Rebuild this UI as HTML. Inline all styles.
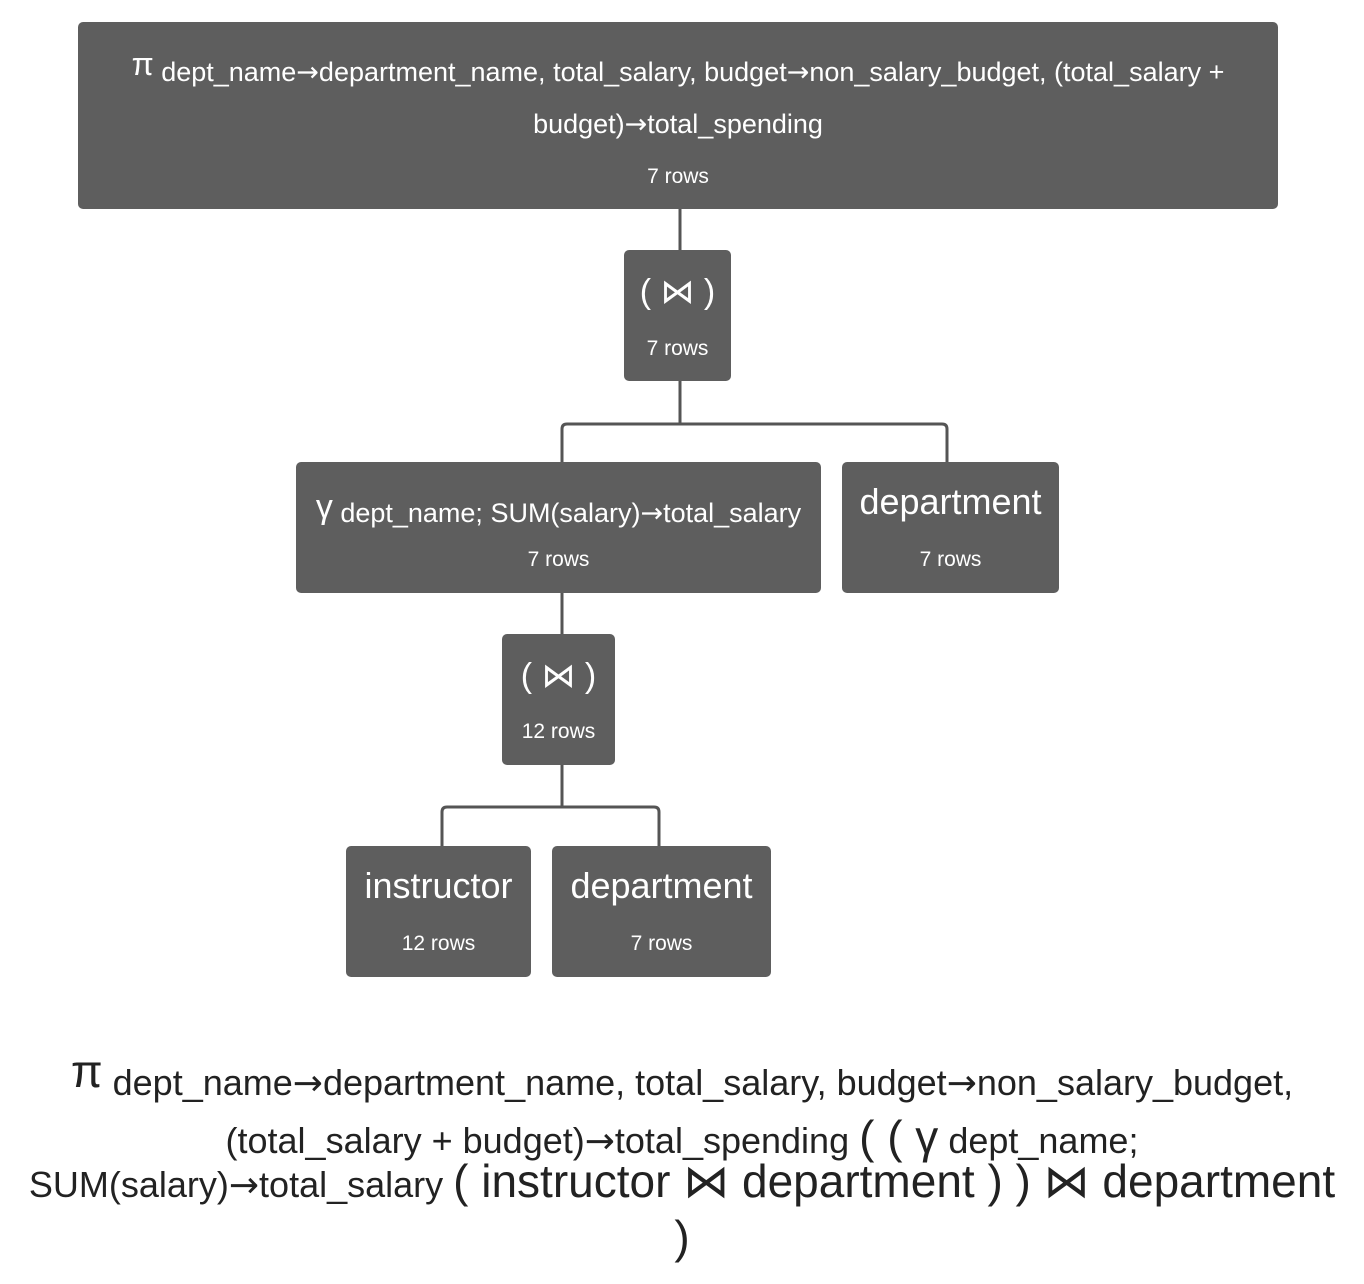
<!DOCTYPE html>
<html><head><style>
body{margin:0;width:1364px;height:1284px;background:#fff;position:relative;font-family:"Liberation Sans",sans-serif;overflow:hidden}
.b{position:absolute;background:#5e5e5e;border-radius:5px;color:#fff;text-align:center}
.r{position:absolute;left:0;right:0;font-size:21px}
.t{position:absolute;left:0;right:0;font-size:27px;white-space:nowrap}
.ln{position:absolute;left:0;width:1364px;text-align:center;color:#222;white-space:nowrap;font-size:36px}
.big{font-size:46px}
.a{font-family:"DejaVu Sans",sans-serif}
</style></head><body>
<svg width="1364" height="1284" style="position:absolute;left:0;top:0">
<g fill="none" stroke="#555" stroke-width="3">
<path d="M680 209V250M680 381V424H942Q947 424 947 429V462M680 424H567Q562 424 562 429V462"/>
<path d="M562 593V634M562 765V807H654Q659 807 659 812V846M562 807H447Q442 807 442 812V846"/>
</g></svg>
<div class="b" style="left:78px;top:22px;width:1200px;height:187px">
<div class="t" style="top:30px"><span style="font-size:32px;position:relative;top:-6px">π</span> dept_name<span class="a">→</span>department_name, total_salary, budget<span class="a">→</span>non_salary_budget, (total_salary +</div>
<div class="t" style="top:87px">budget)<span class="a">→</span>total_spending</div>
<div class="r" style="top:143px">7 rows</div></div>
<div class="b" style="left:624px;top:250px;width:107px;height:131px">
<div class="t" style="top:22px;font-size:34px">( ⋈ )</div><div class="r" style="top:87px">7 rows</div></div>
<div class="b" style="left:296px;top:462px;width:525px;height:131px">
<div class="t" style="top:30px"><span style="font-size:34px;position:relative;top:-4px">γ</span> dept_name; SUM(salary)<span class="a">→</span>total_salary</div><div class="r" style="top:86px">7 rows</div></div>
<div class="b" style="left:842px;top:462px;width:217px;height:131px">
<div class="t" style="top:19px;font-size:36px">department</div><div class="r" style="top:86px">7 rows</div></div>
<div class="b" style="left:502px;top:634px;width:113px;height:131px">
<div class="t" style="top:22px;font-size:34px">( ⋈ )</div><div class="r" style="top:86px">12 rows</div></div>
<div class="b" style="left:346px;top:846px;width:185px;height:131px">
<div class="t" style="top:19px;font-size:36px">instructor</div><div class="r" style="top:86px">12 rows</div></div>
<div class="b" style="left:552px;top:846px;width:219px;height:131px">
<div class="t" style="top:19px;font-size:36px">department</div><div class="r" style="top:86px">7 rows</div></div>
<div class="ln" style="top:1056px"><span class="big" style="position:relative;top:-8px;line-height:1">π</span> dept_name<span class="a">→</span>department_name, total_salary, budget<span class="a">→</span>non_salary_budget,</div>
<div class="ln" style="top:1110px">(total_salary + budget)<span class="a">→</span>total_spending <span class="big">( ( γ</span> dept_name;</div>
<div class="ln" style="top:1154px">SUM(salary)<span class="a">→</span>total_salary <span class="big">( instructor ⋈ department ) ) ⋈ department</span></div>
<div class="ln big" style="top:1210px">)</div>
</body></html>
